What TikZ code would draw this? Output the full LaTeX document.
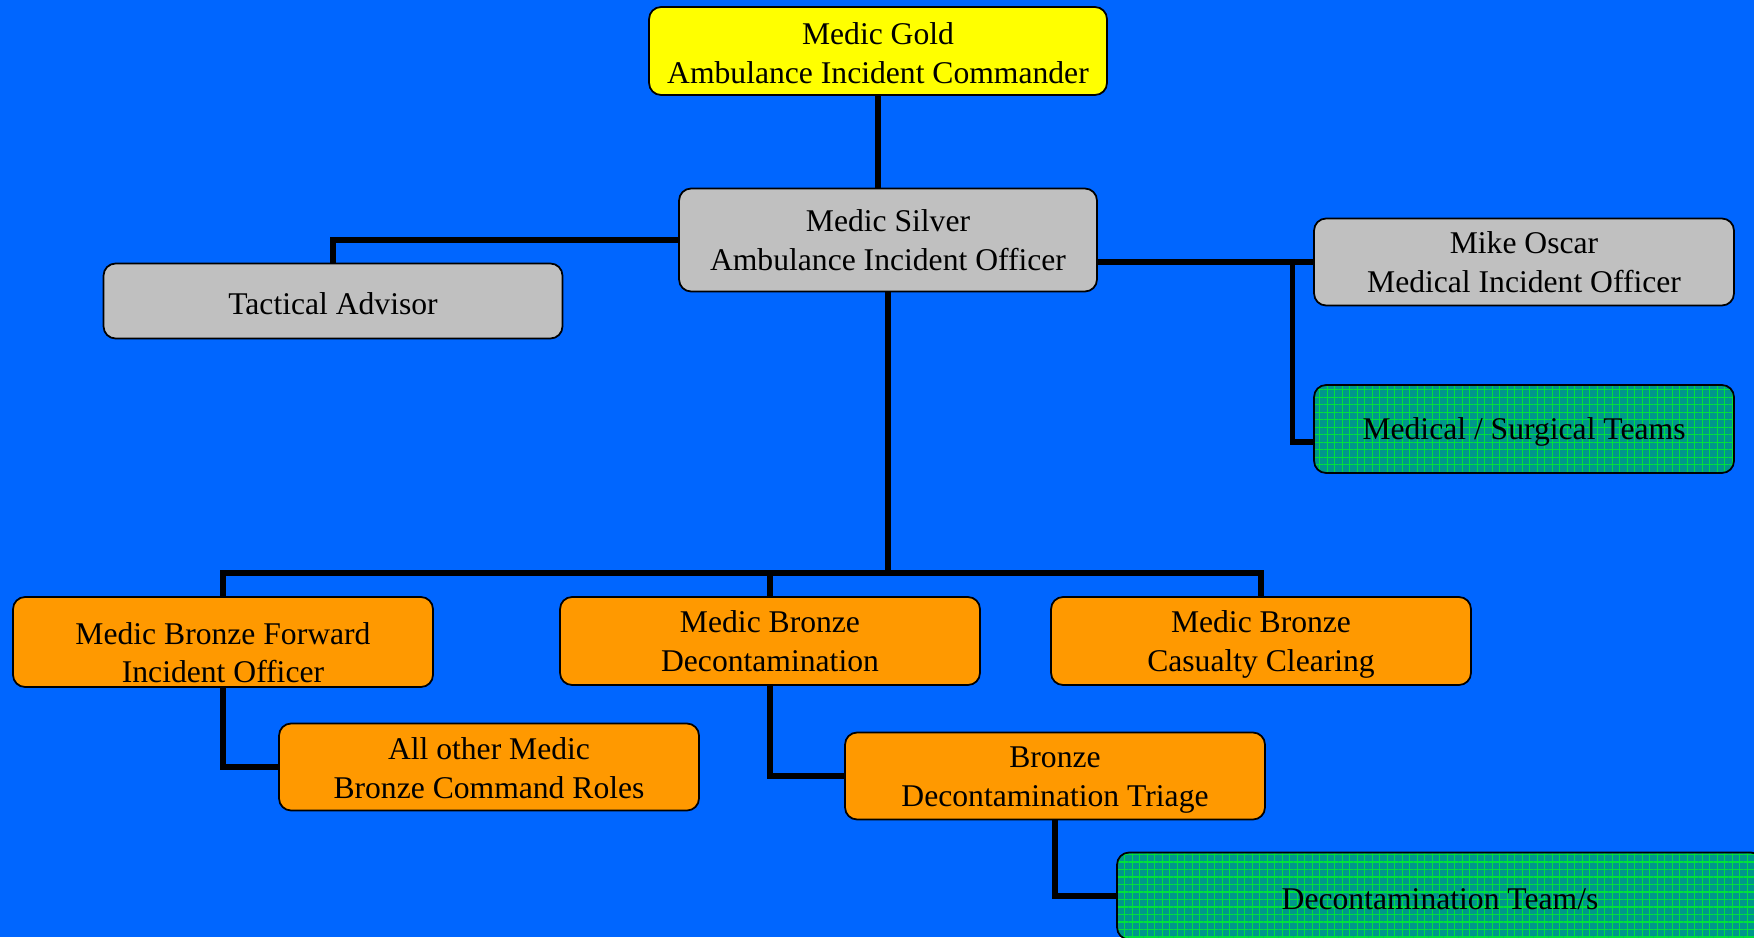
\documentclass[tikz,border=0pt]{standalone}
\usepackage{fontspec}
\setmainfont{Liberation Serif}
\usepackage{xcolor}
\usepackage{tikz}
\usetikzlibrary{positioning, patterns.meta}
\definecolor{bgblue}{RGB}{0,102,255}
\definecolor{goldyel}{RGB}{255,255,0}
\definecolor{silvergray}{RGB}{192,192,192}
\definecolor{bronzeorg}{RGB}{255,153,0}
\definecolor{teamgreen}{RGB}{0,150,140}
\definecolor{gridgreen}{RGB}{0,225,60}

\begin{document}
\begin{tikzpicture}[x=0.02cm, y=-0.02cm,
  cmdbox/.style={rectangle, rounded corners=0.24cm, draw=black, line width=1pt,
                 align=center, text=black, inner xsep=2pt, inner ysep=0pt,
                 font=\fontsize{18}{22}\selectfont,
                 minimum width=8.4cm, minimum height=1.76cm},
  twoline/.style={execute at begin node={\rule{0pt}{#1}},
                  execute at end node={\rule[-5pt]{0pt}{5pt}}},
  twoline/.default=39.3pt,
  oneline/.style={execute at begin node={\rule{0pt}{16pt}}},
  cmdgold/.style={cmdbox, fill=goldyel},
  cmdgrey/.style={cmdbox, fill=silvergray},
  cmdbronze/.style={cmdbox, fill=bronzeorg},
  cmdteam/.style={cmdbox, oneline, preaction={fill=teamgreen},
                  pattern={Hatch[angle=0, distance=0.15cm, line width=0.6pt]},
                  pattern color=gridgreen},
  conn/.style={draw=black, line width=2.9pt}
]

% === Page and background =====================================================
\useasboundingbox (0,0) rectangle (1754,937);
\clip (0,0) rectangle (1754,937);
\fill[bgblue] (0,0) rectangle (1754,937);

% === Gold and Silver (top) ===================================================
\node[cmdgold, twoline=41.5pt, minimum width=9.16cm]        (MG) at (878,  51) {Medic Gold\\Ambulance Incident Commander};
\node[cmdgrey, twoline, minimum width=8.36cm, minimum height=2.06cm] (MS) at (888, 240) {Medic Silver\\Ambulance Incident Officer};
\node[cmdgrey, oneline, minimum width=9.18cm, minimum height=1.5cm]  (TA) at (333, 301) {Tactical Advisor};

% === Medical side (right) ====================================================
\node[cmdgrey, twoline, minimum height=1.74cm]              (MO) at (1524, 262) {Mike Oscar\\Medical Incident Officer};
\node[cmdteam]                                              (MT) at (1524, 429) {Medical / Surgical Teams};

% === Bronze row ==============================================================
\node[cmdbronze, minimum height=1.8cm,
      execute at begin node={\rule{0pt}{46.5pt}}]           (BF) at (223,  642) {Medic Bronze Forward\\Incident Officer};
\node[cmdbronze, twoline]                                   (BD) at (770,  641) {Medic Bronze\\Decontamination};
\node[cmdbronze, twoline]                                   (BC) at (1261, 641) {Medic Bronze\\Casualty Clearing};

% === Below the bronzes =======================================================
\node[cmdbronze, twoline=41pt, minimum height=1.74cm]       (AO) at (489,  767) {All other Medic\\Bronze Command Roles};
\node[cmdbronze, twoline, minimum height=1.74cm]            (DT) at (1055, 776) {Bronze\\Decontamination Triage};
\node[cmdteam, minimum width=12.92cm, minimum height=1.74cm] (TM) at (1440, 896) {Decontamination Team/s};

% === Links ===================================================================
% Gold -- Silver
\draw[conn] (MG.south) -- (MG.south |- MS.north);

% Silver -- Tactical Advisor
\draw[conn] (MS.west) -| (TA.north);

% Silver -- Mike Oscar, and on to the teams
\draw[conn] (MO.west) -- (MO.west -| MS.east);
\draw[conn] (MO.west) ++(-21,0) |- ([yshift=-0.26cm]MT.west);

% Silver -- the three bronzes
\coordinate (bus) at (MS.south |- 0,573);
\draw[conn] (MS.south) -- (bus);
\draw[conn] (BF.north) |- (bus) -| (BC.north);
\draw[conn] (BD.north) -- (BD.north |- bus);

% Bronze children
\draw[conn] (BF.south) |- (AO.west);
\draw[conn] (BD.south) |- (DT.west);
\draw[conn] (DT.south) |- (TM.west);

\end{tikzpicture}
\end{document}
